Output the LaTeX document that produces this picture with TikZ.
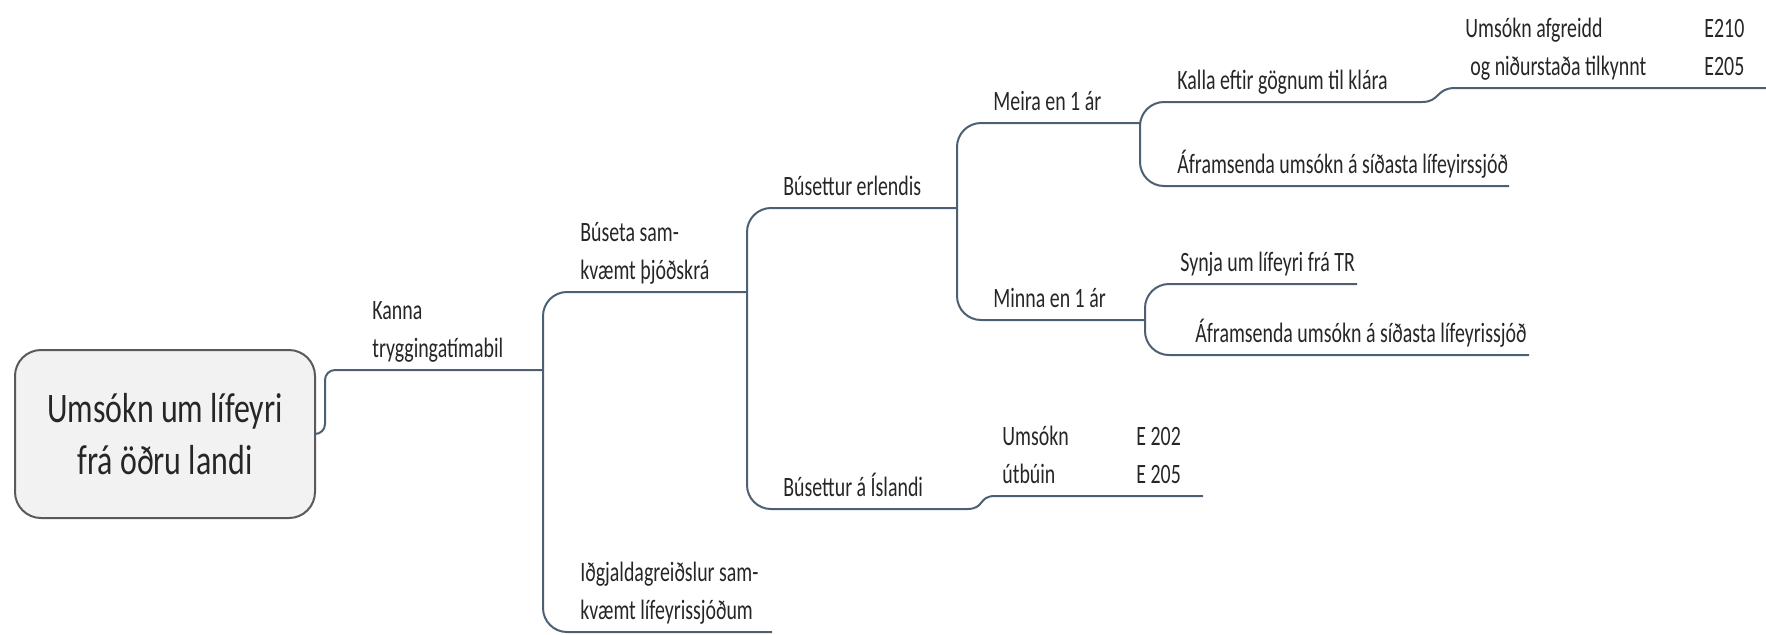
\documentclass[tikz,border=0pt]{standalone}
\usepackage{fontspec}
\setmainfont{Carlito}[FakeStretch=0.71]
\newfontfamily\rootfont{Carlito}[FakeStretch=0.76]
\definecolor{linecol}{HTML}{4D6073}
\definecolor{txtcol}{HTML}{262626}
\definecolor{boxline}{HTML}{5A5A5A}
\definecolor{boxfill}{HTML}{F2F2F2}
\begin{document}
\begin{tikzpicture}[x=0.5pt,y=-0.5pt,
  branch/.style={draw=linecol,line width=1pt,rounded corners=12pt},
  sbend/.style={draw=linecol,line width=1pt},
  lbl/.style={anchor=south west,inner sep=0pt,text depth=0pt,align=left,text=txtcol,font=\fontsize{14}{19}\selectfont},
  rootbox/.style={draw=boxline,fill=boxfill,line width=1pt,rounded corners=13pt,minimum width=150pt,minimum height=84pt,align=center,text=txtcol,font=\rootfont\fontsize{21}{26}\selectfont}]
\useasboundingbox (0,0) rectangle (1766,634);

% Root
\node[rootbox] (root) at (165,434) {Umsókn um lífeyri\\frá öðru landi};

% Branch points
\coordinate (kanna-w) at (325,370);
\coordinate (kanna-e) at (543,370);
\coordinate (buseta-w) at (543,292);
\coordinate (buseta-e) at (747,292);
\coordinate (idgj-w) at (543,632);
\coordinate (idgj-e) at (772,632);
\coordinate (erl-w) at (747,208);
\coordinate (erl-e) at (957,208);
\coordinate (isl-w) at (747,509);
\coordinate (isl-e) at (967,509);
\coordinate (utb-w) at (995,496);
\coordinate (utb-e) at (1203,496);
\coordinate (meira-w) at (957,123);
\coordinate (meira-e) at (1140,123);
\coordinate (minna-w) at (957,320);
\coordinate (minna-e) at (1145,320);
\coordinate (kalla-w) at (1140,102);
\coordinate (kalla-e) at (1422,102);
\coordinate (afg-w) at (1455,88);
\coordinate (afg-e) at (1766,88);
\coordinate (afr1-w) at (1140,186);
\coordinate (afr1-e) at (1509,186);
\coordinate (synja-w) at (1145,284);
\coordinate (synja-e) at (1357,284);
\coordinate (afr2-w) at (1145,355);
\coordinate (afr2-e) at (1529,355);

% Connectors
\draw[branch,rounded corners=5pt] (root.east) -| (kanna-w) -- (kanna-e);
\draw[branch] (buseta-e) -- (buseta-w) -- (idgj-w) -- (idgj-e);
\draw[branch] (erl-e) -- (erl-w) -- (isl-w) -- (isl-e);
\draw[sbend] (isl-e) .. controls (985,509) and (978,496) .. (utb-w) -- (utb-e);
\draw[branch] (meira-e) -- (meira-w) -- (minna-w) -- (minna-e);
\draw[branch] (kalla-e) -- (kalla-w) -- (afr1-w) -- (afr1-e);
\draw[sbend] (kalla-e) .. controls (1440,102) and (1436,88) .. (afg-w) -- (afg-e);
\draw[branch] (synja-e) -- (synja-w) -- (afr2-w) -- (afr2-e);

% Labels
\node[lbl] (kanna) at (372,358) {Kanna\\tryggingatímabil};
\node[lbl] (buseta) at (580,280) {Búseta sam-\\kvæmt þjóðskrá};
\node[lbl] (idgj) at (580,620) {Iðgjaldagreiðslur sam-\\kvæmt lífeyrissjóðum};
\node[lbl] (erlendis) at (783,196) {Búsettur erlendis};
\node[lbl] (islandi) at (783,497) {Búsettur á Íslandi};
\node[lbl] (utbuin) at (1002,484) {Umsókn\\útbúin};
\node[lbl] (e202) at (1136,484) {E 202\\E 205};
\node[lbl] (meira) at (993,111) {Meira en 1 ár};
\node[lbl] (minna) at (993,308) {Minna en 1 ár};
\node[lbl] (kalla) at (1177,90) {Kalla eftir gögnum til klára};
\node[lbl] (afram1) at (1177,174) {Áframsenda umsókn á síðasta lífeyirssjóð};
\node[lbl] (synja) at (1180,272) {Synja um lífeyri frá TR};
\node[lbl] (afram2) at (1195,343) {Áframsenda umsókn á síðasta lífeyrissjóð};
\node[lbl] (afgreidd) at (1465,76) {Umsókn afgreidd\\\hspace{2.5pt}og niðurstaða tilkynnt};
\node[lbl] (e210) at (1704,76) {E210\\E205};
\end{tikzpicture}
\end{document}
